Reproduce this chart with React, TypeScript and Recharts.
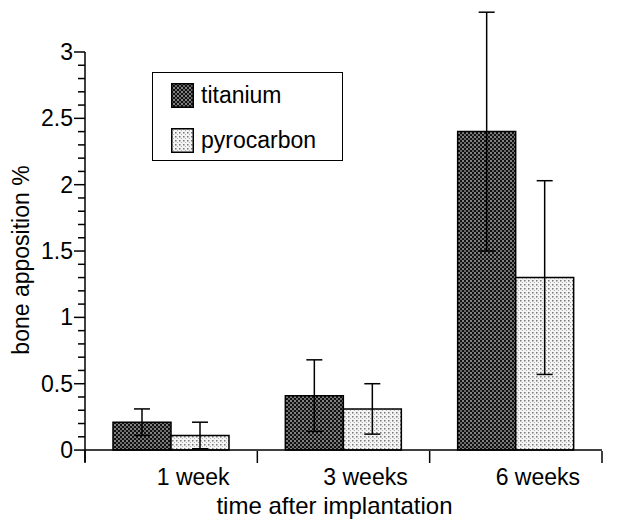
import {
  BarChart,
  Bar,
  XAxis,
  YAxis,
  ErrorBar,
  ReferenceLine,
} from "recharts";

const categories = ["1 week", "3 weeks", "6 weeks"];
const titanium = [0.21, 0.41, 2.4];
const titaniumErr = [0.1, 0.27, 0.9];
const pyrocarbon = [0.11, 0.31, 1.3];
const pyrocarbonErr = [0.1, 0.19, 0.73];
const yTicks = [
  0, 0.1, 0.2, 0.3, 0.4, 0.5, 0.6, 0.7, 0.8, 0.9, 1, 1.1, 1.2, 1.3, 1.4, 1.5,
  1.6, 1.7, 1.8, 1.9, 2, 2.1, 2.2, 2.3, 2.4, 2.5, 2.6, 2.7, 2.8, 2.9, 3,
];

const series = [
  { key: "titanium", err: "titaniumErr", name: "titanium", fill: "url(#patTi)" },
  { key: "pyrocarbon", err: "pyrocarbonErr", name: "pyrocarbon", fill: "url(#patPy)" },
];

const data = categories.map((c, i) => ({
  name: c,
  titanium: titanium[i],
  titaniumErr: titaniumErr[i],
  pyrocarbon: pyrocarbon[i],
  pyrocarbonErr: pyrocarbonErr[i],
}));

const FONT = "'Liberation Sans', Arial, Helvetica, sans-serif";

function YTick(props: any) {
  const { x, y, payload } = props;
  const v = payload.value;
  const major = Math.abs(v * 2 - Math.round(v * 2)) < 1e-6;
  return (
    <g>
      <line x1={x - (major ? 11 : 7)} x2={x} y1={y} y2={y} stroke="#000" strokeWidth={1.5} />
      {major && (
        <text x={x - 12} y={y + 8} textAnchor="end" fontSize={23} fontFamily={FONT} fill="#000">
          {v}
        </text>
      )}
    </g>
  );
}

function XTick(props: any) {
  const { x, y, payload, index } = props;
  const half = payload.offset || 86;
  return (
    <g>
      <line x1={x - half} x2={x - half} y1={y - 11} y2={y + 1} stroke="#000" strokeWidth={1.5} />
      {index === categories.length - 1 && (
        <line x1={x + half} x2={x + half} y1={y - 11} y2={y + 1} stroke="#000" strokeWidth={1.5} />
      )}
      <text x={x + 22} y={y + 23} textAnchor="middle" fontSize={23} fontFamily={FONT} fill="#000">
        {payload.value}
      </text>
    </g>
  );
}

function Patterns() {
  return (
    <defs>
      <pattern id="patTi" width="4" height="4" patternUnits="userSpaceOnUse">
        <rect width="4" height="4" fill="#6a6a6a" />
        <rect x="0" y="0" width="2" height="2" fill="#111" />
        <rect x="2" y="2" width="2" height="2" fill="#111" />
        <rect x="2.5" y="0.5" width="1" height="1" fill="#c8c8c8" />
      </pattern>
      <pattern id="patPy" width="4" height="4" patternUnits="userSpaceOnUse">
        <rect width="4" height="4" fill="#f4f4f4" />
        <rect x="0" y="0" width="1.5" height="1.5" fill="#777" />
        <rect x="2" y="2" width="1" height="1" fill="#b0b0b0" />
      </pattern>
    </defs>
  );
}

export default function App() {
  return (
    <div style={{ position: "absolute", left: 0, top: 0, width: 629, height: 521, background: "#fff" }}>
      <BarChart
        width={629}
        height={521}
        data={data}
        margin={{ top: 52, right: 27, bottom: 0, left: 0 }}
        barCategoryGap={28}
        barGap={0}
      >
        <Patterns />
        <XAxis
          dataKey="name"
          height={59}
          axisLine={false}
          tickLine={false}
          tickSize={0}
          tickMargin={0}
          tick={<XTick />}
          interval={0}
          label={{
            content: (p: any) => (
              <text
                x={p.viewBox.x + p.viewBox.width / 2 - 9}
                y={p.viewBox.y + 52}
                textAnchor="middle"
                fontSize={24}
                fontFamily={FONT}
                fill="#000"
              >
                time after implantation
              </text>
            ),
          }}
        />
        <YAxis
          width={85}
          domain={[-0.09, 3]}
          ticks={yTicks}
          interval={0}
          allowDataOverflow
          axisLine={{ stroke: "#000", strokeWidth: 1.5 }}
          tickLine={false}
          tickSize={0}
          tickMargin={0}
          tick={<YTick />}
          label={{
            content: () => (
              <text
                x={29}
                y={260}
                transform="rotate(-90 29 260)"
                textAnchor="middle"
                fontSize={23}
                fontFamily={FONT}
                fill="#000"
              >
                bone apposition %
              </text>
            ),
          }}
        />
        {series.map((s) => (
          <Bar
            key={s.key}
            dataKey={s.key}
            name={s.name}
            fill={s.fill}
            stroke="#000"
            strokeWidth={1.5}
            isAnimationActive={false}
          >
            <ErrorBar dataKey={s.err} width={8} stroke="#000" strokeWidth={1.5} />
          </Bar>
        ))}
        <ReferenceLine y={0} stroke="#000" strokeWidth={1.5} />
      </BarChart>
      <div
        style={{
          position: "absolute",
          left: 152,
          top: 72,
          width: 189,
          height: 87,
          border: "1.5px solid #000",
          fontFamily: FONT,
          fontSize: 23,
        }}
      >
        {series.map((s, i) => (
          <div
            key={s.key}
            style={{ position: "absolute", left: 18, top: 10 + i * 45, display: "flex", alignItems: "center" }}
          >
            <svg width={23} height={25} style={{ display: "block" }}>
              <rect x={0.75} y={0.75} width={21.5} height={23.5} fill={s.fill} stroke="#000" strokeWidth={1.5} />
            </svg>
            <span style={{ marginLeft: 7, lineHeight: "25px" }}>{s.name}</span>
          </div>
        ))}
      </div>
    </div>
  );
}
